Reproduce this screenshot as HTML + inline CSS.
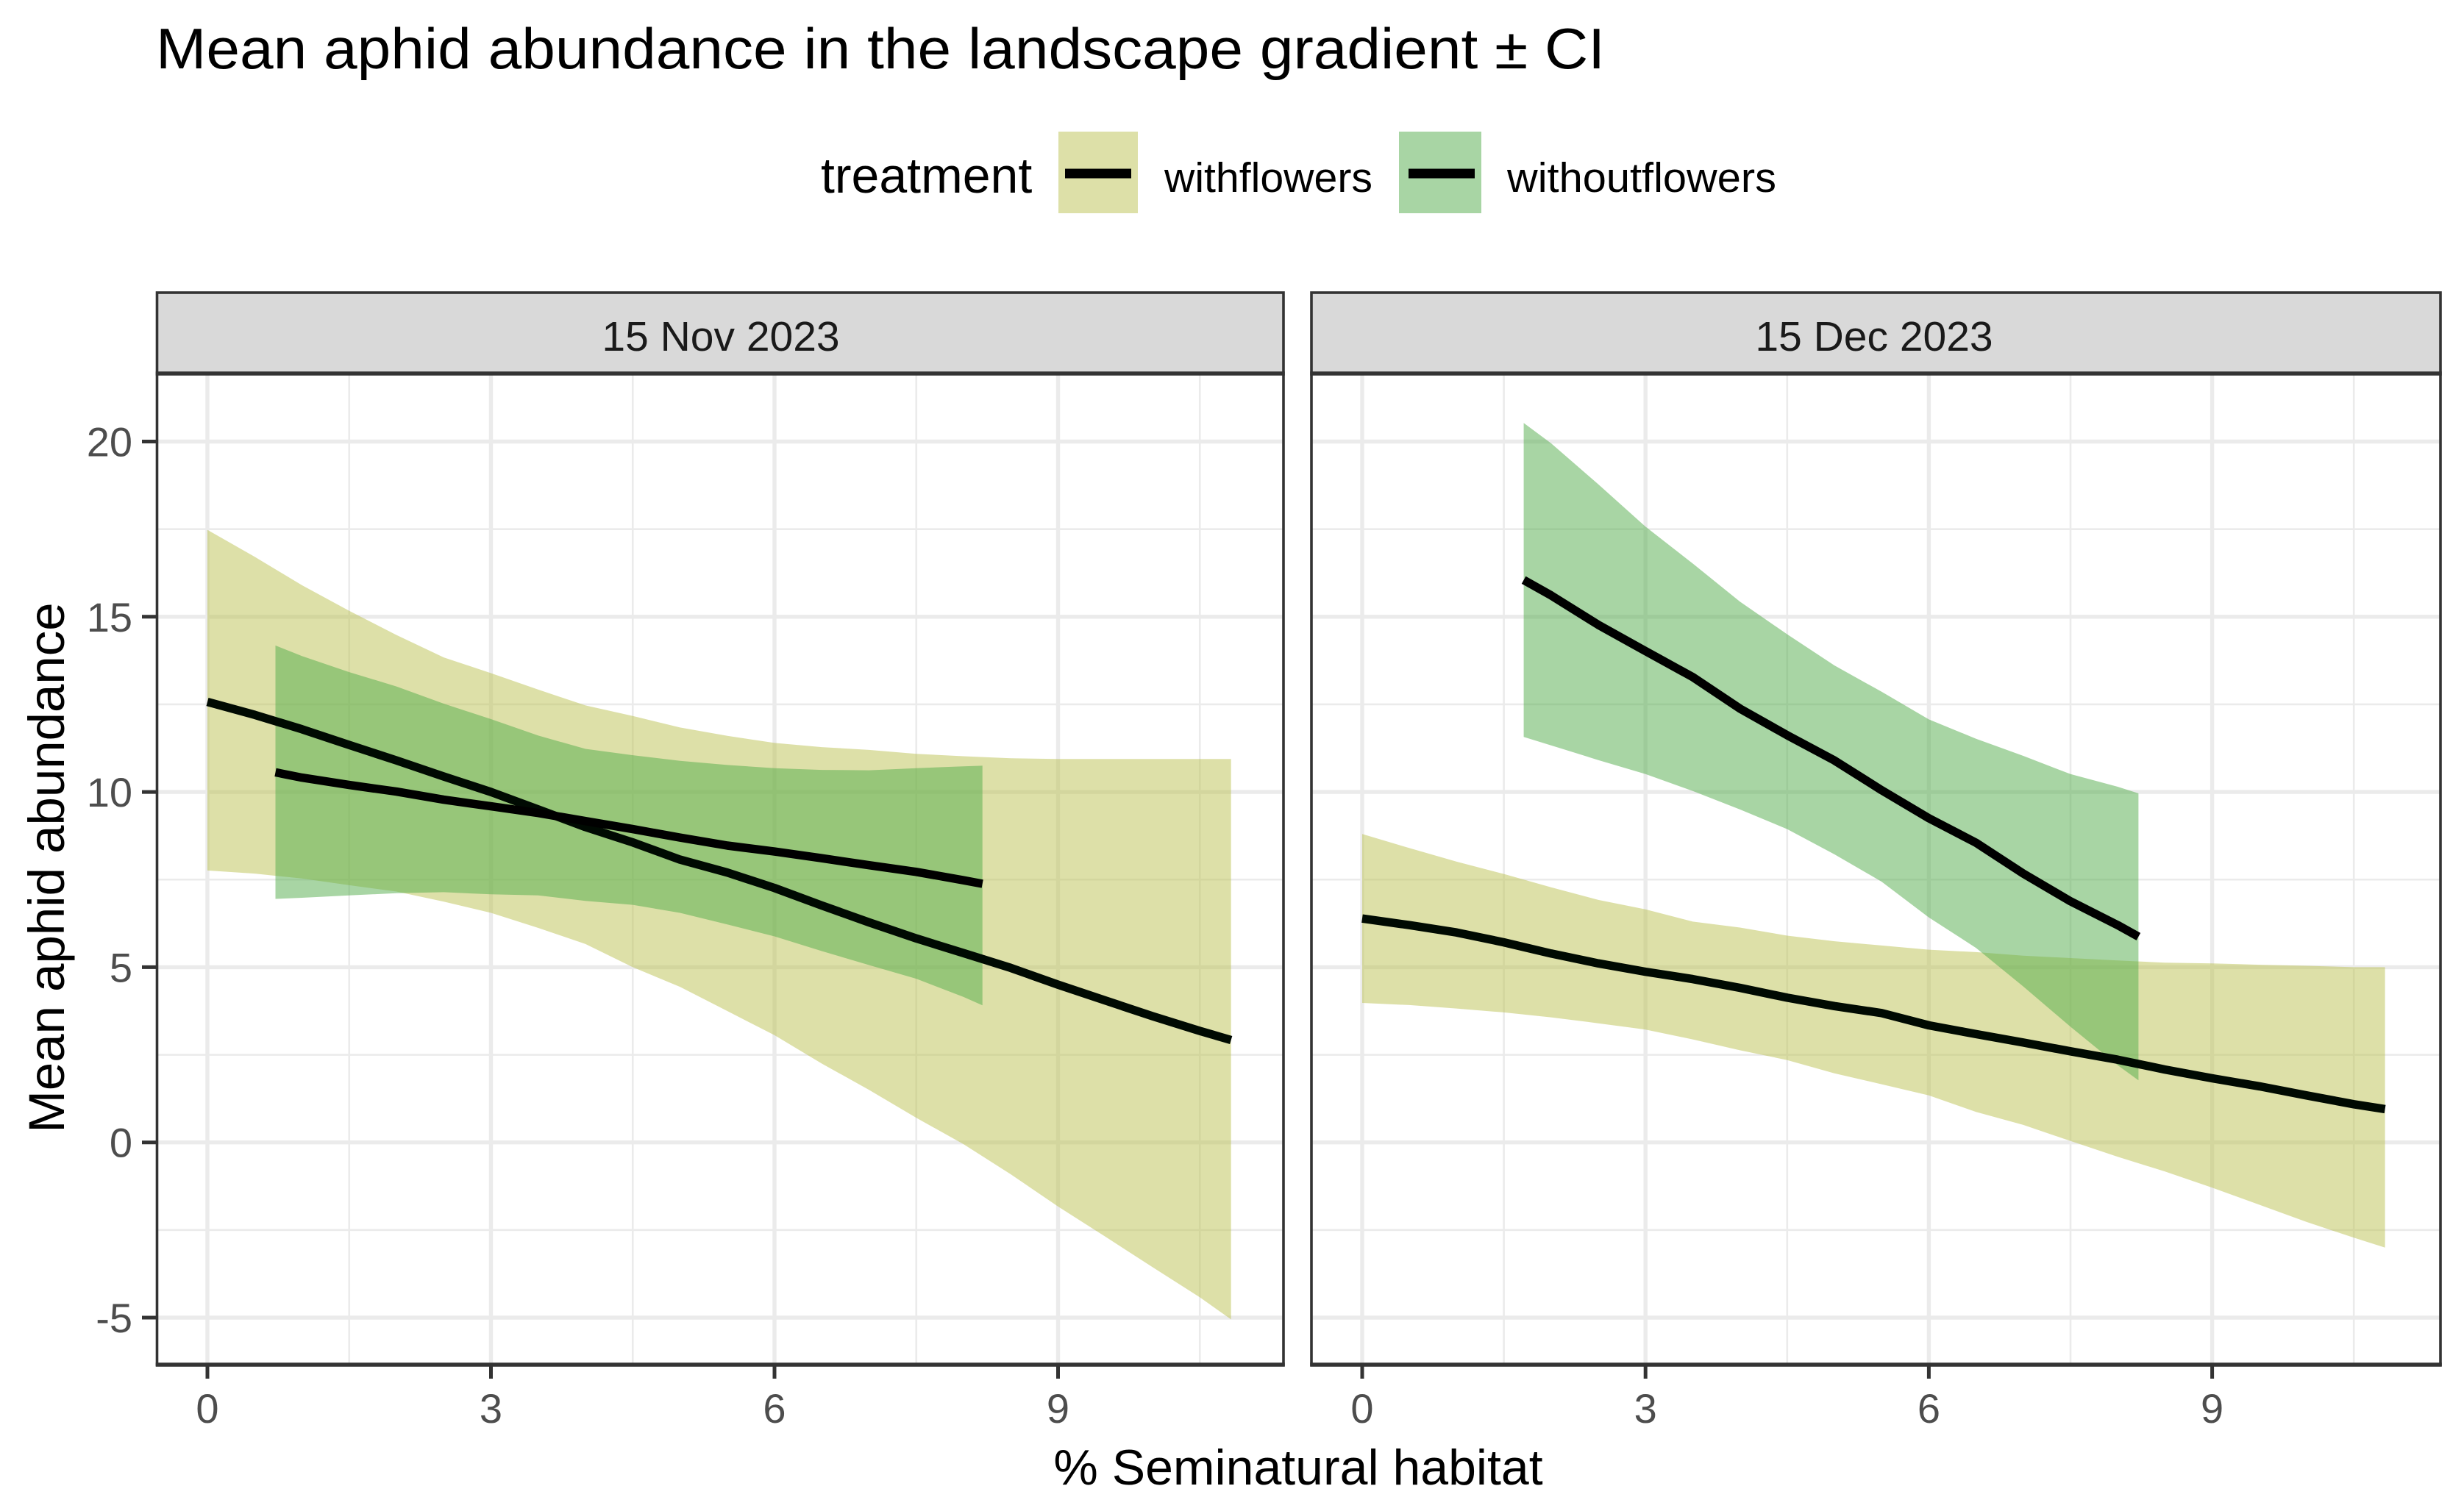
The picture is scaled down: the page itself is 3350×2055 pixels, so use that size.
<!DOCTYPE html>
<html lang="en">
<head>
<meta charset="utf-8">
<title>Mean aphid abundance in the landscape gradient ± CI</title>
<style>
html,body{margin:0;padding:0;background:#fff;}
svg{display:block;}
text{font-family:"Liberation Sans",Arial,sans-serif;}
</style>
</head>
<body>
<svg id="chart" xmlns="http://www.w3.org/2000/svg" width="3350" height="2055" viewBox="0 0 3350 2055">
  <rect x="0" y="0" width="3350" height="2055" fill="#ffffff"/>
  <text x="212" y="93" font-size="78" fill="#000000" textLength="1970" lengthAdjust="spacingAndGlyphs">Mean aphid abundance in the landscape gradient ± CI</text>

  <g>
    <text x="1116" y="262" font-size="68" fill="#000000">treatment</text>
    <g>
      <rect x="1439" y="179" width="108" height="111" fill="#BBC152" fill-opacity="0.5"/>
      <line x1="1448" y1="236" x2="1538" y2="236" stroke="#000000" stroke-width="13"/>
      <text x="1583" y="261" font-size="57" fill="#000000" textLength="283" lengthAdjust="spacingAndGlyphs">withflowers</text>
    </g>
    <g>
      <rect x="1902" y="179" width="112" height="111" fill="#51AB49" fill-opacity="0.5"/>
      <line x1="1915" y1="236" x2="2005" y2="236" stroke="#000000" stroke-width="13"/>
      <text x="2049" y="261" font-size="57" fill="#000000" textLength="366" lengthAdjust="spacingAndGlyphs">withoutflowers</text>
    </g>
  </g>

  <g id="panel-nov"></g>
  <g id="panel-dec"></g>

  <text transform="translate(87,1180) rotate(-90)" text-anchor="middle" font-size="69" fill="#000000">Mean aphid abundance</text>
  <text x="1765" y="2019" text-anchor="middle" font-size="68" fill="#000000">% Seminatural habitat</text>
</svg>
<script>
// ----- Chart data -----
const xTickValues = [0, 3, 6, 9];
const xMinorValues = [1.5, 4.5, 7.5, 10.5];
const yTickValues = [-5, 0, 5, 10, 15, 20];
const yMinorValues = [-2.5, 2.5, 7.5, 12.5, 17.5];

const novWithX = [0,0.5,1,1.5,2,2.5,3,3.5,4,4.5,5,5.5,6,6.5,7,7.5,8,8.5,9,9.5,10,10.5,10.83];
const novWithMean = [12.57,12.2,11.79,11.34,10.9,10.44,10,9.5,9.0,8.56,8.07,7.7,7.26,6.76,6.28,5.82,5.4,4.98,4.5,4.05,3.6,3.18,2.92];
const novWithUpper = [17.48,16.71,15.9,15.17,14.48,13.84,13.39,12.92,12.47,12.17,11.84,11.6,11.4,11.28,11.2,11.09,11.02,10.96,10.94,10.94,10.94,10.94,10.94];
const novWithLower = [7.76,7.67,7.53,7.34,7.16,6.87,6.55,6.12,5.66,5.0,4.44,3.75,3.06,2.25,1.5,0.7,-0.05,-0.91,-1.83,-2.69,-3.56,-4.42,-5.05];

const novWithoutX = [0.72,1,1.5,2,2.5,3,3.5,4,4.5,5,5.5,6,6.5,7,7.5,8,8.2];
const novWithoutMean = [10.56,10.41,10.2,10.01,9.78,9.59,9.4,9.17,8.94,8.7,8.47,8.3,8.11,7.91,7.72,7.48,7.38];
const novWithoutUpper = [14.18,13.88,13.42,13.01,12.52,12.08,11.61,11.23,11.05,10.89,10.77,10.68,10.63,10.62,10.68,10.73,10.75];
const novWithoutLower = [6.95,6.98,7.05,7.11,7.14,7.08,7.05,6.89,6.78,6.55,6.22,5.88,5.46,5.06,4.67,4.15,3.91];

const decWithX = [0,0.5,1,1.5,2,2.5,3,3.5,4,4.5,5,5.5,6,6.5,7,7.5,8,8.5,9,9.5,10,10.5,10.83];
const decWithMean = [6.39,6.2,5.99,5.71,5.39,5.11,4.87,4.66,4.41,4.13,3.89,3.69,3.34,3.09,2.85,2.6,2.36,2.08,1.83,1.6,1.34,1.09,0.95];
const decWithUpper = [8.8,8.4,8.01,7.66,7.28,6.92,6.65,6.3,6.13,5.9,5.74,5.62,5.5,5.43,5.33,5.26,5.19,5.13,5.11,5.07,5.04,5.0,5.0];
const decWithLower = [3.98,3.92,3.82,3.71,3.57,3.4,3.22,2.94,2.63,2.35,1.97,1.66,1.34,0.87,0.5,0.04,-0.41,-0.83,-1.29,-1.78,-2.27,-2.72,-3.0];

const decWithoutX = [1.71,2,2.5,3,3.5,4,4.5,5,5.5,6,6.5,7,7.5,8,8.22];
const decWithoutMean = [16.05,15.61,14.77,14.02,13.28,12.38,11.62,10.9,10.05,9.25,8.55,7.67,6.88,6.2,5.87];
const decWithoutUpper = [20.53,19.95,18.78,17.57,16.52,15.43,14.5,13.61,12.86,12.07,11.52,11.03,10.51,10.15,9.96];
const decWithoutLower = [11.57,11.33,10.91,10.51,10.03,9.5,8.94,8.22,7.44,6.42,5.55,4.45,3.3,2.2,1.77];

const stripLabelNov = '15 Nov 2023';
const stripLabelDec = '15 Dec 2023';

// ----- Drawing -----
const NS = 'http://www.w3.org/2000/svg';
const plotTop = 508, plotBottom = 1856, stripTop = 398;
const yScale = v => 1553.7 - 47.66 * v;

function mk(parent, tag, attrs, txt) {
  const el = document.createElementNS(NS, tag);
  for (const k in attrs) el.setAttribute(k, attrs[k]);
  if (txt !== undefined) el.textContent = txt;
  parent.appendChild(el);
  return el;
}

function linePoints(xs, ys, xScale) {
  return xs.map((x, i) => xScale(x).toFixed(1) + ',' + yScale(ys[i]).toFixed(1)).join(' ');
}

function bandPoints(xs, up, lo, xScale) {
  const a = xs.map((x, i) => xScale(x).toFixed(1) + ',' + yScale(up[i]).toFixed(1));
  const b = xs.map((x, i) => xScale(x).toFixed(1) + ',' + yScale(lo[i]).toFixed(1)).reverse();
  return a.concat(b).join(' ');
}

function drawPanel(root, left, right, xScale, label, labelX, showY, s) {
  // panel background
  const bg = mk(root, 'rect', {x:left, y:plotTop, width:right-left, height:plotBottom-plotTop, fill:'#ffffff'});
  
  

  // grid
  yMinorValues.forEach(v => {
    const g = mk(root, 'line', {x1:left, x2:right, y1:yScale(v), y2:yScale(v), stroke:'#EBEBEB', 'stroke-width':2.6});
    
    
  });
  xMinorValues.forEach(v => {
    const g = mk(root, 'line', {x1:xScale(v), x2:xScale(v), y1:plotTop, y2:plotBottom, stroke:'#EBEBEB', 'stroke-width':2.6});
    
    
  });
  yTickValues.forEach(v => {
    const g = mk(root, 'line', {x1:left, x2:right, y1:yScale(v), y2:yScale(v), stroke:'#EBEBEB', 'stroke-width':5.4});
    
    
  });
  xTickValues.forEach(v => {
    const g = mk(root, 'line', {x1:xScale(v), x2:xScale(v), y1:plotTop, y2:plotBottom, stroke:'#EBEBEB', 'stroke-width':5.4});
    
    
  });

  // ribbons first, then both mean lines on top
  const r1 = mk(root, 'polygon', {points:bandPoints(s.wx, s.wu, s.wl, xScale), fill:'#BBC152', 'fill-opacity':0.5});
  
  
  const r2 = mk(root, 'polygon', {points:bandPoints(s.ox, s.ou, s.ol, xScale), fill:'#51AB49', 'fill-opacity':0.5});
  
  
  const l1 = mk(root, 'polyline', {points:linePoints(s.wx, s.wm, xScale), fill:'none', stroke:'#000A02', 'stroke-width':11.5, 'stroke-linejoin':'round'});
  
  
  const l2 = mk(root, 'polyline', {points:linePoints(s.ox, s.om, xScale), fill:'none', stroke:'#000000', 'stroke-width':11.5, 'stroke-linejoin':'round'});
  
  

  // strip
  const st = mk(root, 'rect', {x:left, y:stripTop, width:right-left, height:plotTop-stripTop, fill:'#D9D9D9'});
  
  
  const stT = mk(root, 'text', {x:labelX, y:477, 'text-anchor':'middle', 'font-size':57, fill:'#1A1A1A'}, label);
  
  

  // borders
  const bt = mk(root, 'rect', {x:left, y:stripTop, width:right-left, height:plotBottom-stripTop, fill:'none', stroke:'#333333', 'stroke-width':3.6});
  
  
  const sb = mk(root, 'line', {x1:left-1.8, x2:right+1.8, y1:plotTop, y2:plotTop, stroke:'#333333', 'stroke-width':5.5});
  
  
  const ab = mk(root, 'line', {x1:left-1.8, x2:right+1.8, y1:plotBottom, y2:plotBottom, stroke:'#333333', 'stroke-width':5.5});
  
  

  // x ticks
  xTickValues.forEach(v => {
    const t = mk(root, 'line', {x1:xScale(v), x2:xScale(v), y1:plotBottom, y2:1875, stroke:'#333333', 'stroke-width':5});
    
    
    const tl = mk(root, 'text', {x:xScale(v), y:1935, 'text-anchor':'middle', 'font-size':56, fill:'#4D4D4D'}, String(v));
    
    
  });

  // y ticks
  if (showY) {
    yTickValues.forEach(v => {
      const t = mk(root, 'line', {x1:193, x2:left, y1:yScale(v), y2:yScale(v), stroke:'#333333', 'stroke-width':5});
      
      
      const tl = mk(root, 'text', {x:180, y:yScale(v)+20, 'text-anchor':'end', 'font-size':56, fill:'#4D4D4D'}, String(v));
      
      
    });
  }
}

drawPanel(document.getElementById('panel-nov'), 213.5, 1745, v => 282 + 128.5 * v, stripLabelNov, 980, true, {
  wx:novWithX, wm:novWithMean, wu:novWithUpper, wl:novWithLower,
  ox:novWithoutX, om:novWithoutMean, ou:novWithoutUpper, ol:novWithoutLower
});
drawPanel(document.getElementById('panel-dec'), 1783, 3318, v => 1852 + 128.4 * v, stripLabelDec, 2548, false, {
  wx:decWithX, wm:decWithMean, wu:decWithUpper, wl:decWithLower,
  ox:decWithoutX, om:decWithoutMean, ou:decWithoutUpper, ol:decWithoutLower
});
</script>
</body>
</html>
